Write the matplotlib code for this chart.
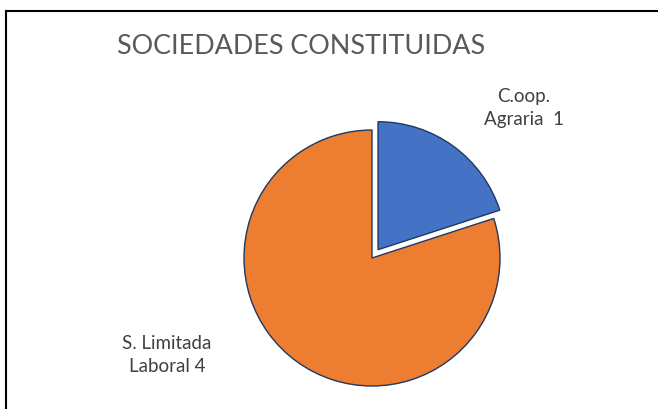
import matplotlib
matplotlib.use("Agg")
import matplotlib.pyplot as plt
from matplotlib.lines import Line2D

categories = ["C.oop.\nAgraria  1", "S. Limitada\nLaboral 4"]
values = [1, 4]
colors = ["#4472C4", "#ED7D31"]
explode = [0.08, 0.0]
title = "SOCIEDADES CONSTITUIDAS"

W, H = 658, 409
fig = plt.figure(figsize=(W / 100, H / 100), dpi=100)
fig.patch.set_facecolor("white")

R = 128.0
cx, cy = 372, 258
half = 150
ax = fig.add_axes([(cx - half) / W, (H - cy - half) / H, 2 * half / W, 2 * half / H])
ax.pie(values, colors=colors, explode=explode, startangle=90, counterclock=False,
       radius=1.0, wedgeprops=dict(edgecolor="#1F3864", linewidth=1.0))
lim = half / R
ax.set_xlim(-lim, lim)
ax.set_ylim(-lim, lim)
ax.set_aspect("equal")
ax.axis("off")

font = ["Lato", "DejaVu Sans"]
fig.text(301 / W, 1 - 47 / H, title, ha="center", va="center", fontsize=19.4,
         color="#595959", family=font)
fig.text(524 / W, 1 - 108 / H, categories[0], ha="center", va="center", fontsize=13.5,
         color="#404040", family=font, linespacing=1.45)
fig.text(167 / W, 1 - 355 / H, categories[1], ha="center", va="center", fontsize=13.5,
         color="#404040", family=font, linespacing=1.45)

# chart border (top and left visible)
fig.add_artist(Line2D([6 / W, 1.0], [1 - 11 / H, 1 - 11 / H], transform=fig.transFigure,
                      color="black", linewidth=1.5))
fig.add_artist(Line2D([6 / W, 6 / W], [0.0, 1 - 11 / H], transform=fig.transFigure,
                      color="black", linewidth=1.5))

fig.savefig("out.png", dpi=100)
